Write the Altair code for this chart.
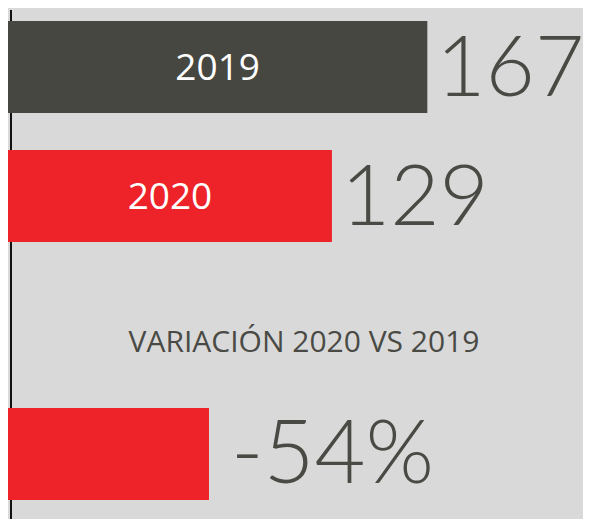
import altair as alt
import pandas as pd

# ---- data ----
years = ["2019", "2020"]
totals = [167, 129]
bar_colors = ["#474742", "#ee2229"]
variation_row = "var"
variation_value = 54          # magnitude of the variation (percent)
variation_text = "-54%"
variation_title = "VARIACIÓN 2020 VS 2019"

rows = ["2019", "2020", "label", "var"]

BG = "#d9d9d9"
TXT = "#4a4a45"
RED = "#ee2229"

W, H = 575, 511

main = pd.DataFrame({"row": years, "value": totals, "color": bar_colors,
                     "txt": [str(v) for v in totals]})
var = pd.DataFrame({"row": [variation_row], "value": [variation_value],
                    "txt": [variation_text]})
ttl = pd.DataFrame({"row": ["label"], "txt": [variation_title]})

yscale = alt.Scale(domain=rows, range=[13, 492], paddingInner=0.287, paddingOuter=0)
xmain = alt.Scale(domain=[0, 229], zero=True, nice=False)
xvar = alt.Scale(domain=[0, 154.5], zero=True, nice=False)
Y = alt.Y("row:N", scale=yscale, axis=None)

line = alt.Chart(main).mark_rule(color="#111111", strokeWidth=2).encode(
    x=alt.value(3), y=alt.value(2), y2=alt.value(H))

bars = alt.Chart(main).mark_bar().encode(
    x=alt.X("value:Q", scale=xmain, axis=None),
    y=Y,
    color=alt.Color("color:N", scale=None, legend=None))

inner = alt.Chart(main).transform_calculate(half="datum.value / 2").mark_text(
    font="Open Sans", fontSize=37, color="white", align="center",
    baseline="middle", dy=2).encode(
    x=alt.X("half:Q", scale=xmain, axis=None), y=Y, text="row:N")

nums = alt.Chart(main).mark_text(
    font="Lato", fontWeight=300, fontSize=85, color=TXT, align="left",
    baseline="middle", dx=9, dy=3).encode(
    x=alt.X("value:Q", scale=xmain, axis=None), y=Y, text="txt:N")

vbar = alt.Chart(var).mark_bar(color=RED).encode(
    x=alt.X("value:Q", scale=xvar, axis=None), y=Y)

vtxt = alt.Chart(var).mark_text(
    font="Lato", fontWeight=300, fontSize=88, color=TXT, align="left",
    baseline="middle", dx=22, dy=3).encode(
    x=alt.X("value:Q", scale=xvar, axis=None), y=Y, text="txt:N")

title = alt.Chart(ttl).mark_text(
    font="Open Sans", fontSize=30, color=TXT, align="center",
    baseline="middle", dy=18).encode(
    x=alt.value(296), y=Y, text="txt:N")

chart = alt.layer(line, bars, inner, nums, vbar, vtxt, title).resolve_scale(
    x="independent").properties(
    width=W, height=H, padding=0, autosize=alt.AutoSizeParams(type="none"),
    background=BG).configure_view(stroke=None, fill=BG)

chart.save("out.html", embed_options={"renderer": "svg", "actions": False})
